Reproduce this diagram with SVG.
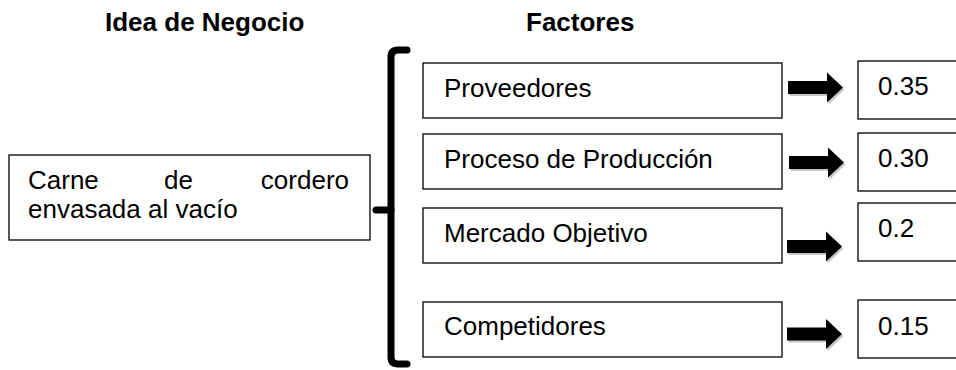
<svg xmlns="http://www.w3.org/2000/svg" width="956" height="370" viewBox="0 0 956 370">
  <defs>
    <style>
      .box { fill: #ffffff; stroke: #000000; stroke-width: 1.3; }
      .txt { font-family: "Liberation Sans", Arial, sans-serif; font-size: 26px; fill: #000000; }
      .head { font-family: "Liberation Sans", Arial, sans-serif; font-size: 26px; font-weight: bold; fill: #000000; }
      .arrow { fill: #000000; }
      .shadow { fill: #808080; opacity: 0.45; }
      .brace { fill: none; stroke: #000000; stroke-width: 7; stroke-linecap: round; stroke-linejoin: round; }
    </style>
    <path id="blockArrow" d="M0,-6.5 L39,-6.5 L39,-15 L55,0 L39,15 L39,6.5 L0,6.5 Z"/>
  </defs>
  <rect width="956" height="370" fill="#ffffff"/>

  <g id="titles">
    <text class="head" x="105" y="31">Idea de Negocio</text>
    <text class="head" x="526" y="31">Factores</text>
  </g>

  <g id="idea">
    <rect class="box" x="9" y="155" width="361" height="85"/>
    <text class="txt" x="28" y="189">Carne</text>
    <text class="txt" x="164" y="189">de</text>
    <text class="txt" x="349" y="189" text-anchor="end">cordero</text>
    <text class="txt" x="28" y="218">envasada al vacío</text>
  </g>

  <g id="factor-proveedores">
    <rect class="box" x="423" y="63" width="359" height="55"/>
    <text class="txt" x="444" y="97">Proveedores</text>
  </g>
  <g id="factor-proceso">
    <rect class="box" x="423" y="134" width="359" height="55"/>
    <text class="txt" x="444" y="168">Proceso de Producción</text>
  </g>
  <g id="factor-mercado">
    <rect class="box" x="423" y="208" width="359" height="55"/>
    <text class="txt" x="444" y="242">Mercado Objetivo</text>
  </g>
  <g id="factor-competidores">
    <rect class="box" x="423" y="302" width="359" height="55"/>
    <text class="txt" x="444" y="335">Competidores</text>
  </g>

  <g id="value-035">
    <rect class="box" x="858" y="61" width="100" height="58"/>
    <text class="txt" x="878" y="95">0.35</text>
  </g>
  <g id="value-030">
    <rect class="box" x="858" y="133" width="100" height="58"/>
    <text class="txt" x="878" y="167">0.30</text>
  </g>
  <g id="value-02">
    <rect class="box" x="858" y="203" width="100" height="58"/>
    <text class="txt" x="878" y="237">0.2</text>
  </g>
  <g id="value-015">
    <rect class="box" x="858" y="300" width="100" height="58"/>
    <text class="txt" x="878" y="335">0.15</text>
  </g>

  <g id="connectors">
    <path class="brace" d="M407,50 L398,50 Q391,50 391,57 L391,357 Q391,364 398,364 L407,364"/>
    <path class="brace" d="M391,210 L376,210"/>
    <use href="#blockArrow" class="shadow" x="789.5" y="89.5"/>
    <use href="#blockArrow" class="arrow" x="788" y="87.5"/>
    <use href="#blockArrow" class="shadow" x="790.5" y="164.5"/>
    <use href="#blockArrow" class="arrow" x="789" y="162.5"/>
    <use href="#blockArrow" class="shadow" x="788.5" y="248.5"/>
    <use href="#blockArrow" class="arrow" x="787" y="246.5"/>
    <use href="#blockArrow" class="shadow" x="788.5" y="336"/>
    <use href="#blockArrow" class="arrow" x="787" y="334"/>
  </g>
</svg>
